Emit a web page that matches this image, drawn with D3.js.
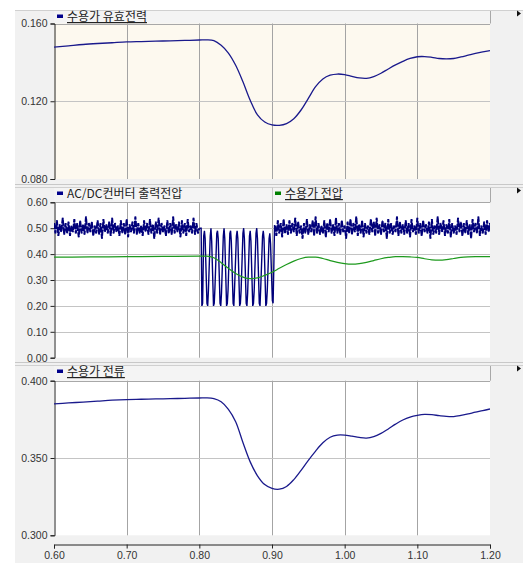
<!DOCTYPE html>
<html><head><meta charset="utf-8">
<script src="https://cdn.jsdelivr.net/npm/d3@7/dist/d3.min.js"></script>
<style>
html,body{margin:0;padding:0;background:#fff;}
svg{display:block;}
text{font-family:"Liberation Sans",Arial,sans-serif;}
.kr{font-family:"Noto Sans CJK KR","Liberation Sans",sans-serif;}
</style></head><body>
<svg id="c" width="526" height="563"></svg>
<script>
// ---------------- data ----------------
const xTicks = [0.60, 0.70, 0.80, 0.90, 1.00, 1.10, 1.20];
const p1Ticks = [0.080, 0.120, 0.160];
const p2Ticks = [0.00, 0.10, 0.20, 0.30, 0.40, 0.50, 0.60];
const p3Ticks = [0.300, 0.350, 0.400];

const legend1 = "수용가 유효전력";
const legend2a = "AC/DC컨버터 출력전압";
const legend2b = "수용가 전압";
const legend3 = "수용가 전류";

const smoothT = [0.60,0.62,0.64,0.66,0.68,0.70,0.72,0.74,0.76,0.78,0.80,0.81,0.82,0.83,0.84,0.85,0.86,0.87,0.88,0.89,0.90,0.91,0.92,0.93,0.94,0.95,0.96,0.97,0.98,0.99,1.00,1.01,1.02,1.03,1.04,1.05,1.06,1.07,1.08,1.09,1.10,1.11,1.12,1.13,1.14,1.15,1.16,1.17,1.18,1.19,1.20];

const powerVals = [0.1478,0.1485,0.1492,0.1497,0.1501,0.1505,0.1507,0.1509,0.1511,0.1513,0.1515,0.1516,0.1512,0.1488,0.1448,0.1385,0.1300,0.1205,0.1130,0.1093,0.1078,0.1076,0.1085,0.1110,0.1155,0.1215,0.1275,0.1315,0.1334,0.1340,0.1337,0.1328,0.1320,0.1318,0.1327,0.1344,0.1366,0.1387,0.1405,0.1420,0.1429,0.1430,0.1426,0.1420,0.1418,0.1420,0.1428,0.1437,0.1446,0.1454,0.1461];

const currentVals = [0.3850,0.3856,0.3862,0.3868,0.3874,0.3878,0.3880,0.3882,0.3884,0.3886,0.3888,0.3889,0.3884,0.3864,0.3815,0.3735,0.3600,0.3475,0.3385,0.3328,0.3303,0.3298,0.3316,0.3360,0.3420,0.3485,0.3545,0.3598,0.3634,0.3648,0.3648,0.3641,0.3633,0.3629,0.3638,0.3659,0.3688,0.3719,0.3746,0.3765,0.3776,0.3782,0.3780,0.3774,0.3769,0.3768,0.3775,0.3785,0.3796,0.3806,0.3817];

const voltT = [0.60,0.65,0.70,0.75,0.80,0.81,0.82,0.83,0.84,0.85,0.86,0.87,0.88,0.89,0.90,0.91,0.92,0.93,0.94,0.95,0.96,0.97,0.98,0.99,1.00,1.01,1.02,1.03,1.04,1.05,1.06,1.07,1.08,1.09,1.10,1.11,1.12,1.13,1.14,1.15,1.16,1.17,1.18,1.19,1.20];
const voltVals = [0.388,0.389,0.390,0.391,0.392,0.392,0.386,0.367,0.345,0.325,0.311,0.305,0.308,0.318,0.330,0.345,0.360,0.373,0.383,0.388,0.388,0.383,0.375,0.368,0.363,0.361,0.363,0.368,0.375,0.382,0.387,0.390,0.390,0.389,0.387,0.382,0.378,0.377,0.379,0.383,0.387,0.389,0.390,0.390,0.390];

// AC/DC output: ripple before fault (t = 0.600 .. 0.800, every 0.002 s)
const acdcPreStart = 0.600, acdcStep = 0.002;
const acdcPre = [
0.52,0.48,0.53,0.47,0.515,0.485,0.54,0.475,0.52,0.48,
0.525,0.47,0.51,0.485,0.535,0.48,0.52,0.465,0.53,0.48,
0.515,0.475,0.545,0.48,0.52,0.485,0.525,0.47,0.51,0.48,
0.53,0.475,0.52,0.46,0.535,0.485,0.515,0.48,0.525,0.47,
0.54,0.48,0.52,0.485,0.51,0.47,0.53,0.48,0.52,0.475,
0.535,0.465,0.515,0.485,0.525,0.48,0.545,0.475,0.52,0.48,
0.51,0.47,0.53,0.485,0.52,0.475,0.535,0.48,0.515,0.46,
0.525,0.48,0.54,0.475,0.52,0.485,0.51,0.47,0.53,0.48,
0.52,0.475,0.545,0.48,0.515,0.485,0.525,0.465,0.53,0.48,
0.52,0.47,0.535,0.485,0.51,0.48,0.54,0.475,0.52,0.48,
0.50];
// AC/DC output during fault (explicit samples)
const acdcOscT = [0.8025,0.8035,0.8045,0.806,
0.807,0.808,0.8105,0.8115,0.8125,0.815,
0.816,0.817,0.8195,0.8205,0.8215,0.824,
0.825,0.826,0.8285,0.8295,0.8305,0.833,
0.834,0.835,0.8375,0.8385,0.8395,0.842,
0.843,0.844,0.8465,0.8475,0.8485,0.851,
0.852,0.853,0.8555,0.8565,0.8575,0.860,
0.861,0.862,0.8645,0.8655,0.8665,0.869,
0.870,0.871,0.8735,0.8745,0.8755,0.878,
0.879,0.880,0.8825,0.8835,0.8845,0.887,
0.888,0.889,0.8915,0.8925,0.8935,0.896,
0.897,0.898,0.9005,0.9015,0.9025,0.9035];
const acdcOscV = [0.50,0.20,0.21,0.47,
0.49,0.46,0.21,0.20,0.26,0.47,
0.50,0.45,0.20,0.21,0.27,0.48,
0.49,0.46,0.21,0.20,0.25,0.47,
0.50,0.46,0.20,0.21,0.26,0.48,
0.49,0.45,0.21,0.20,0.27,0.47,
0.49,0.46,0.20,0.21,0.26,0.48,
0.50,0.46,0.21,0.20,0.25,0.47,
0.49,0.45,0.20,0.21,0.26,0.48,
0.50,0.46,0.21,0.20,0.27,0.47,
0.49,0.46,0.20,0.21,0.26,0.46,
0.48,0.44,0.22,0.21,0.35,0.51];
// AC/DC output after fault cleared (t = 0.904 .., every 0.002 s)
const acdcPostStart = 0.904;
const acdcPost = [
0.51,0.47,0.53,0.48,0.52,0.465,0.535,0.48,0.515,0.475,
0.53,0.48,0.52,0.485,0.54,0.47,0.525,0.48,0.51,0.46,
0.52,0.48,0.535,0.475,0.515,0.485,0.53,0.47,0.545,0.48,
0.52,0.475,0.51,0.48,0.53,0.465,0.52,0.485,0.535,0.48,
0.515,0.47,0.54,0.48,0.52,0.475,0.53,0.485,0.51,0.46,
0.525,0.48,0.535,0.475,0.52,0.485,0.545,0.47,0.515,0.48,
0.53,0.465,0.52,0.48,0.51,0.475,0.535,0.485,0.525,0.47,
0.54,0.48,0.515,0.475,0.53,0.485,0.52,0.46,0.535,0.48,
0.52,0.475,0.51,0.485,0.545,0.47,0.525,0.48,0.515,0.475,
0.53,0.48,0.52,0.465,0.535,0.485,0.51,0.475,0.54,0.48,
0.52,0.47,0.53,0.485,0.515,0.48,0.525,0.46,0.535,0.475,
0.51,0.48,0.545,0.475,0.52,0.485,0.53,0.47,0.515,0.48,
0.535,0.465,0.52,0.48,0.51,0.475,0.54,0.485,0.525,0.47,
0.52,0.48,0.53,0.475,0.515,0.46,0.535,0.485,0.52,0.48,
0.545,0.47,0.51,0.48,0.525,0.475,0.53,0.485,0.52,0.47];

// ---------------- drawing ----------------
const svg = d3.select("#c");
const L = 54, R = 490;
const x = d3.scaleLinear().domain([0.6, 1.2]).range([L, R]);

// background frame
svg.append("rect").attr("x",15).attr("y",10).attr("width",508).attr("height",553).attr("fill","#f1f1f1");

const panels = [
  {hdr:[10,23.5], top:23.5, bot:179, dom:[0.08,0.16], ticks:p1Ticks, fmt:d3.format(".3f"), bg:"#fdf9ef", sep:184},
  {hdr:[187,202.3], top:202.3, bot:357.7, dom:[0,0.6], ticks:p2Ticks, fmt:d3.format(".2f"), bg:"#ffffff", sep:362},
  {hdr:[365,380.7], top:380.7, bot:535.3, dom:[0.3,0.4], ticks:p3Ticks, fmt:d3.format(".3f"), bg:"#ffffff", sep:null}
];
panels.forEach(p => { p.y = d3.scaleLinear().domain(p.dom).range([p.bot, p.top]); });

panels.forEach((p,i) => {
  const g = svg.append("g");
  g.append("rect").attr("x",L).attr("y",p.hdr[0]).attr("width",R-L).attr("height",p.top-p.hdr[0])
    .attr("fill","#f4f4f4");
  g.append("line").attr("x1",R+0.5).attr("x2",R+0.5).attr("y1",p.hdr[0]).attr("y2",p.top).attr("stroke","#a8a8a8");
  g.append("line").attr("x1",15).attr("x2",523).attr("y1",p.hdr[0]+0.5).attr("y2",p.hdr[0]+0.5).attr("stroke","#d0d0d0");
  g.append("rect").attr("x",L).attr("y",p.top).attr("width",R-L).attr("height",p.bot-p.top).attr("fill",p.bg);
  g.selectAll(".vg").data(xTicks.slice(1,-1)).join("line")
    .attr("x1",d=>Math.round(x(d))+0.5).attr("x2",d=>Math.round(x(d))+0.5)
    .attr("y1",p.top).attr("y2",p.bot).attr("stroke","#a4a4a4");
  g.selectAll(".hg").data(p.ticks.slice(1,-1)).join("line")
    .attr("x1",L).attr("x2",R).attr("y1",d=>Math.round(p.y(d))+0.5).attr("y2",d=>Math.round(p.y(d))+0.5)
    .attr("stroke","#c4c4c4");
  g.append("line").attr("x1",L).attr("x2",R).attr("y1",Math.round(p.top)+0.5).attr("y2",Math.round(p.top)+0.5).attr("stroke","#a8a8a8");
  const ax = g.append("g").attr("transform",`translate(${L+0.5},0)`)
    .call(d3.axisLeft(p.y).tickValues(p.ticks).tickFormat(p.fmt).tickSize(4).tickPadding(3));
  ax.select(".domain").attr("stroke","#222");
  ax.selectAll(".tick line").attr("stroke","#222");
  ax.selectAll("text").attr("font-size","10.5px").attr("fill","#333").attr("font-family","'Liberation Sans',Arial,sans-serif");
  if (p.sep) {
    g.append("line").attr("x1",15).attr("x2",523).attr("y1",p.sep+0.5).attr("y2",p.sep+0.5).attr("stroke","#c8c8c8");
  }
  g.append("path").attr("d",`M517,${p.hdr[0]+0.5} L521,${p.hdr[0]+3.5} L517,${p.hdr[0]+6.5} Z`).attr("fill","#111");
});

const xa = svg.append("g").attr("transform","translate(0,544.5)")
  .call(d3.axisBottom(x).tickValues(xTicks).tickFormat(d3.format(".2f")).tickSize(4).tickPadding(3));
xa.select(".domain").attr("stroke","#222");
xa.selectAll(".tick line").attr("stroke","#222");
xa.selectAll("text").attr("font-size","10.5px").attr("fill","#333").attr("font-family","'Liberation Sans',Arial,sans-serif");

panels.forEach((p,i) => {
  svg.append("clipPath").attr("id","cp"+i).append("rect").attr("x",L).attr("y",p.top).attr("width",R-L).attr("height",p.bot-p.top);
});

// panel 1: power
const powerData = smoothT.map((t,i)=>[t,powerVals[i]]);
svg.append("path").attr("clip-path","url(#cp0)").datum(powerData)
  .attr("d", d3.line().x(d=>x(d[0])).y(d=>panels[0].y(d[1])).curve(d3.curveCatmullRom.alpha(0.5)))
  .attr("fill","none").attr("stroke","#1a1a8c").attr("stroke-width",1.3);

// panel 2: AC/DC output voltage
const preData = acdcPre.map((v,i)=>[acdcPreStart + i*acdcStep, v]);
const oscData = acdcOscT.map((t,i)=>[t, acdcOscV[i]]);
const postData = acdcPost.map((v,i)=>[acdcPostStart + i*acdcStep, v]);
const lineA = d3.line().x(d=>x(d[0])).y(d=>panels[1].y(d[1]));
// ripple sections: soft halo + dense core
[preData, postData].forEach(seg => {
  svg.append("path").attr("clip-path","url(#cp1)").datum(seg).attr("d", lineA)
    .attr("fill","none").attr("stroke","#6a6ac0").attr("stroke-width",1.0);
  svg.append("path").attr("clip-path","url(#cp1)").datum(seg).attr("d", lineA)
    .attr("fill","none").attr("stroke","#00007a").attr("stroke-width",1.9).attr("stroke-dasharray","6,1.5");
});
svg.append("path").attr("clip-path","url(#cp1)").datum([preData[preData.length-1]].concat(oscData, [postData[0]]))
  .attr("d", lineA).attr("fill","none").attr("stroke","#00007a").attr("stroke-width",1.4);

const voltData = voltT.map((t,i)=>[t,voltVals[i]]);
svg.append("path").attr("clip-path","url(#cp1)").datum(voltData)
  .attr("d", d3.line().x(d=>x(d[0])).y(d=>panels[1].y(d[1])).curve(d3.curveMonotoneX))
  .attr("fill","none").attr("stroke","#1e9a1e").attr("stroke-width",1.2);

// panel 3: current
const curData = smoothT.map((t,i)=>[t,currentVals[i]]);
svg.append("path").attr("clip-path","url(#cp2)").datum(curData)
  .attr("d", d3.line().x(d=>x(d[0])).y(d=>panels[2].y(d[1])).curve(d3.curveCatmullRom.alpha(0.5)))
  .attr("fill","none").attr("stroke","#1a1a8c").attr("stroke-width",1.3);

// legends
function legend(xp, yTop, color, label, underline) {
  svg.append("rect").attr("x",xp).attr("y",yTop+4.5).attr("width",6).attr("height",3.5).attr("fill",color);
  const t = svg.append("text").attr("class","kr").attr("x",xp+10).attr("y",yTop+11)
    .attr("font-size","12px").attr("fill","#222").text(label);
  if (underline) t.attr("text-decoration","underline");
}
legend(57, panels[0].hdr[0], "#00008b", legend1, true);
legend(57, panels[1].hdr[0], "#00008b", legend2a, false);
svg.append("line").attr("x1",272.5).attr("x2",272.5).attr("y1",panels[1].hdr[0]).attr("y2",panels[1].top).attr("stroke","#c8c8c8");
legend(275, panels[1].hdr[0], "#008000", legend2b, true);
legend(57, panels[2].hdr[0], "#00008b", legend3, true);
</script>
</body></html>
